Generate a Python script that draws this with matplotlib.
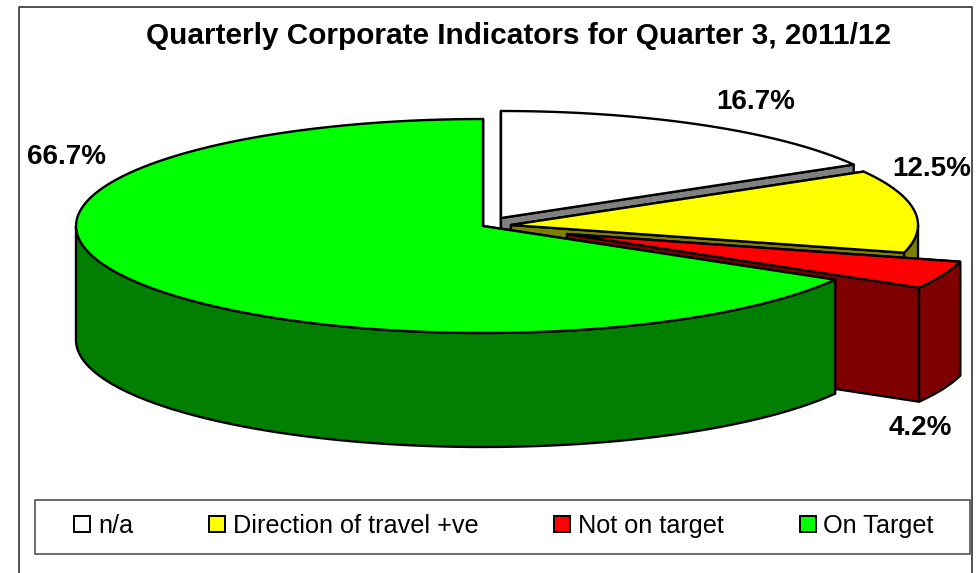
import numpy as np
import matplotlib
matplotlib.use("Agg")
import matplotlib.pyplot as plt
from matplotlib.patches import Polygon, Rectangle

plt.rcParams['font.family'] = ['Liberation Sans', 'DejaVu Sans']

title = "Quarterly Corporate Indicators for Quarter 3, 2011/12"
categories = ["n/a", "Direction of travel +ve", "Not on target", "On Target"]
values = [16.7, 12.5, 4.2, 66.7]
top_colors = ["#ffffff", "#ffff00", "#ff0000", "#00ff00"]
side_colors = ["#808080", "#808000", "#7f0000", "#007f00"]

# layout of the exploded slices, in figure pixels
centers = [(501, 218), (511, 225), (567, 234), (483, 226)]
label_pos = [(756, 102), (932, 169), (920, 428), (66, 157)]
rx = 407
ry = 107
depth = 114
lw = 1.7


def rim(c, a):
    # a is measured clockwise from 12 o'clock
    return c[0] + rx * np.sin(a), c[1] - ry * np.cos(a)


def arc_points(c, a1, a2):
    a = np.linspace(a1, a2, 120)
    x, y = rim(c, a)
    return np.column_stack([x, y])


def cut_face(c, a):
    x, y = rim(c, a)
    return [c, (x, y), (x, y + depth), (c[0], c[1] + depth)]


fig = plt.figure(figsize=(9.8, 5.73), dpi=100)
ax = fig.add_axes([0, 0, 1, 1])
ax.set_xlim(0, 980)
ax.set_ylim(573, 0)
ax.axis("off")

# outer chart border runs off the bottom of the picture
ax.plot([19, 19, 972, 972], [580, 7, 7, 580], color="#333333", lw=1.2)

shares = np.array(values) / sum(values) * 2 * np.pi
ends = np.cumsum(shares)
starts = ends - shares

for i in range(len(values)):
    c = centers[i]
    a1 = starts[i]
    a2 = ends[i]
    style = dict(edgecolor="black", linewidth=lw, joinstyle="round")
    ax.add_patch(Polygon(cut_face(c, a1), facecolor=side_colors[i], **style))
    ax.add_patch(Polygon(cut_face(c, a2), facecolor=side_colors[i], **style))
    # only the front half of the rim can be seen
    f1 = max(a1, np.pi / 2)
    f2 = min(a2, 3 * np.pi / 2)
    if f2 > f1:
        upper = arc_points(c, f1, f2)
        lower = upper[::-1] + [0, depth]
        ax.add_patch(Polygon(np.vstack([upper, lower]), facecolor=side_colors[i], **style))
    top = np.vstack([[c], arc_points(c, a1, a2)])
    ax.add_patch(Polygon(top, facecolor=top_colors[i], **style))
    ax.text(label_pos[i][0], label_pos[i][1], f"{values[i]:.1f}%", fontsize=20,
            fontweight="bold", ha="center", va="center", color="black")

ax.text(519, 36, title, fontsize=21.4, fontweight="bold", ha="center", va="center", color="black")

ax.add_patch(Rectangle((35, 500), 935, 54, facecolor="white", edgecolor="#444444", lw=1.1))
handles = [Rectangle((0, 0), 1, 1, facecolor=top_colors[i], edgecolor="black", lw=1.4)
           for i in range(len(categories))]
ax.legend(handles, categories, ncol=4, loc="center", bbox_to_anchor=(504 / 980, 1 - 526 / 573),
          frameon=False, fontsize=18.2, handlelength=0.64, handleheight=0.62,
          handletextpad=0.3, columnspacing=3.0)

fig.savefig("out.png", dpi=100)
